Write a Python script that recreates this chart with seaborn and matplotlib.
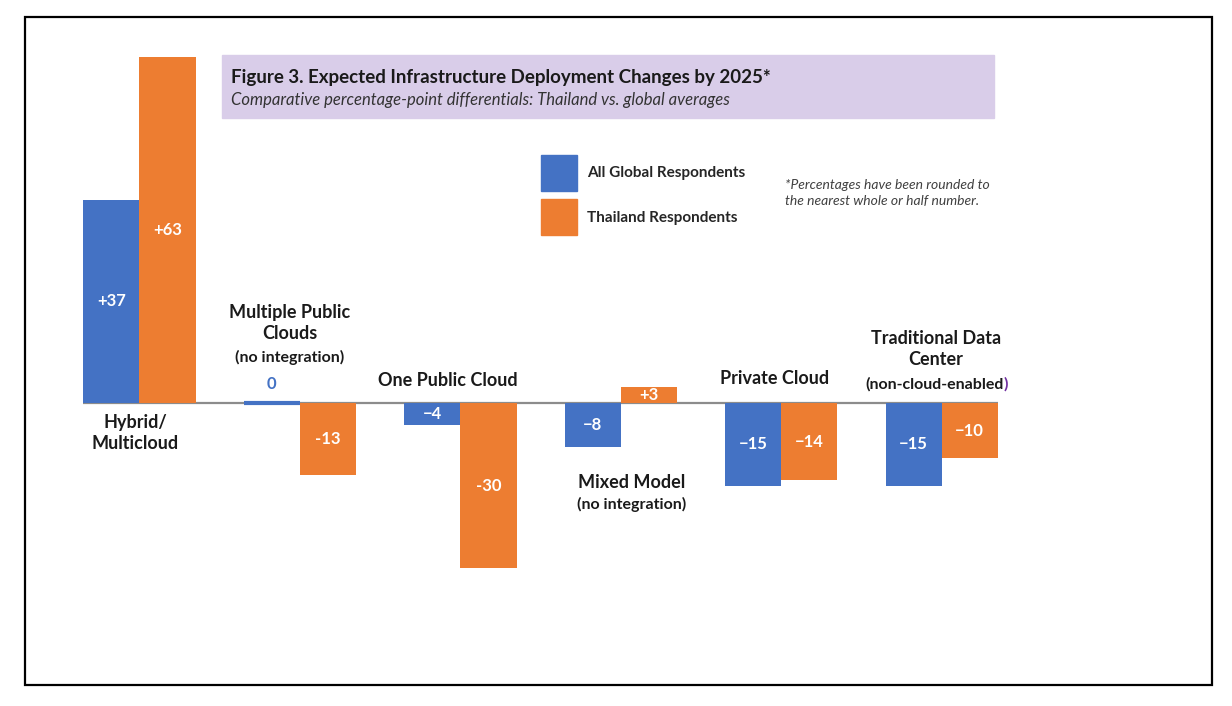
import pandas as pd
import matplotlib.pyplot as plt
import seaborn as sns
from matplotlib.patches import Patch, Rectangle

sns.set_theme(style="white")
plt.rcParams['font.family'] = ['Lato', 'DejaVu Sans']

# ---- data ----
categories = ["Hybrid/Multicloud", "Multiple Public Clouds", "One Public Cloud",
              "Mixed Model", "Private Cloud", "Traditional Data Center"]
global_vals = [37, 0, -4, -8, -15, -15]
thailand_vals = [63, -13, -30, 3, -14, -10]
global_labels = ["+37", "0", "\u22124", "\u22128", "\u221215", "\u221215"]
thailand_labels = ["+63", "-13", "-30", "+3", "\u221214", "\u221210"]
series_names = ["All Global Respondents", "Thailand Respondents"]

BLUE = "#4472C4"
ORANGE = "#ED7D31"

df = pd.DataFrame({
    "Category": categories * 2,
    "Change": global_vals + thailand_vals,
    "Group": [series_names[0]] * len(categories) + [series_names[1]] * len(categories),
})

W, H = 1232, 706


def fx(x):
    return x / W


def fy(y):
    return 1 - y / H


fig = plt.figure(figsize=(W / 100, H / 100), dpi=100)
ax = fig.add_axes([fx(40), fy(600), 1160 / W, 560 / H])

sns.barplot(data=df, x="Category", y="Change", hue="Group", order=categories,
            palette={series_names[0]: BLUE, series_names[1]: ORANGE},
            width=0.7, saturation=1, legend=False, ax=ax, zorder=2, linewidth=0)

ax.set_xlim(-0.62, 6.61)
ax.set_ylim(-35.8, 66)
ax.axis("off")
ax.hlines(0, -0.35, 5.35, color="#8c8c8c", lw=1.6, zorder=1)

# value labels inside bars
for cont, labs in zip(ax.containers, [global_labels, thailand_labels]):
    inner = [l if l != "0" else "" for l in labs]
    ax.bar_label(cont, labels=inner, label_type="center", color="white",
                 fontsize=12, fontweight="bold")
    for bar, lab in zip(cont, labs):
        if lab == "0":
            bar.set_edgecolor(BLUE)
            bar.set_linewidth(3)
            ax.text(bar.get_x() + bar.get_width() / 2, 3.5, lab, color=BLUE,
                    ha="center", va="center", fontsize=12, fontweight="bold")

# category labels
cat_main = ["Hybrid/\nMulticloud", "Multiple Public\nClouds", "One Public Cloud",
            "Mixed Model", "Private Cloud", "Traditional Data\nCenter"]
cat_pos = [(135, 433), (290, 323), (448, 381), (632, 482), (775, 379), (936, 349)]
for lab, (x, y) in zip(cat_main, cat_pos):
    fig.text(fx(x), fy(y), lab, ha="center", va="center", fontsize=13,
             fontweight="bold", color="#1a1a1a", linespacing=1.35)
fig.text(fx(290), fy(357), "(no integration)", ha="center", va="center",
         fontsize=11.5, fontweight="bold", color="#1a1a1a")
fig.text(fx(632), fy(504), "(no integration)", ha="center", va="center",
         fontsize=11.5, fontweight="bold", color="#1a1a1a")
fig.text(fx(1004), fy(384), "(non-cloud-enabled", ha="right", va="center",
         fontsize=11.5, fontweight="bold", color="#1a1a1a")
fig.text(fx(1004), fy(384), ")", ha="left", va="center",
         fontsize=11.5, fontweight="bold", color="#7030A0")

# title box
fig.patches.append(Rectangle((fx(222), fy(118)), 772 / W, 63 / H,
                             transform=fig.transFigure, color="#D9CDE9", zorder=0))
fig.text(fx(231), fy(78), "Figure 3. Expected Infrastructure Deployment Changes by 2025*",
         ha="left", va="center", fontsize=13.5, fontweight="bold", color="#1a1a1a")
fig.text(fx(231), fy(100),
         "Comparative percentage-point differentials: Thailand vs. global averages",
         ha="left", va="center", fontsize=12, style="italic", color="#333333")

# legend
handles = [Patch(color=BLUE), Patch(color=ORANGE)]
fig.legend(handles, series_names, loc="upper left",
           bbox_to_anchor=(fx(527), fy(141)), frameon=False,
           handlelength=2.4, handleheight=3.3, labelspacing=0.5,
           handletextpad=0.6, prop={"weight": "bold", "size": 11})

# note
fig.text(fx(785), fy(193),
         "*Percentages have been rounded to\nthe nearest whole or half number.",
         ha="left", va="center", fontsize=10, style="italic", color="#404040",
         linespacing=1.4)

# outer border
fig.patches.append(Rectangle((fx(25), fy(685)), 1187 / W, 668 / H,
                             transform=fig.transFigure, fill=False,
                             ec="black", lw=1.6))

fig.savefig("out.png", dpi=100)
